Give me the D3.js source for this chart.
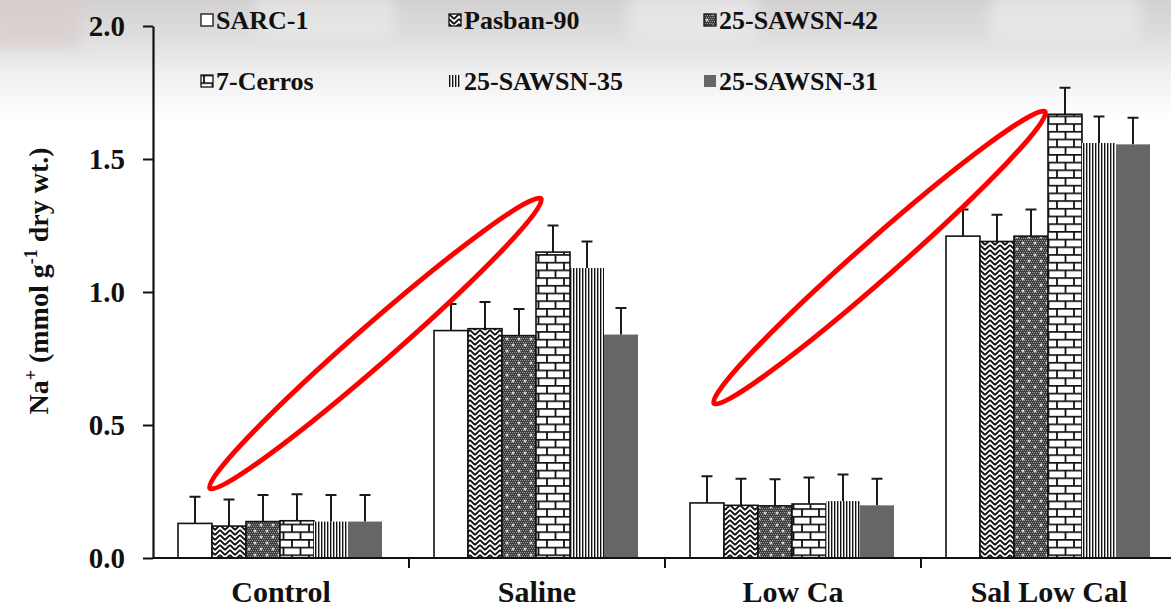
<!DOCTYPE html>
<html><head><meta charset="utf-8">
<script src="https://cdn.jsdelivr.net/npm/d3@7"></script>
<style>
html,body{margin:0;padding:0;background:#fff;}
svg{display:block;}
text{font-family:"Liberation Serif","Times New Roman",serif;font-weight:bold;fill:#111;}
</style></head>
<body>
<svg id="chart" width="1171" height="610"></svg>
<script>
// ---- data ----
const categories = ["Control", "Saline", "Low Ca", "Sal Low Cal"];
const seriesNames = ["SARC-1", "Pasban-90", "25-SAWSN-42", "7-Cerros", "25-SAWSN-35", "25-SAWSN-31"];
const sarc1     = [0.130, 0.855, 0.207, 1.210];
const pasban90  = [0.120, 0.862, 0.198, 1.190];
const sawsn42   = [0.137, 0.836, 0.196, 1.210];
const cerros7   = [0.140, 1.150, 0.203, 1.668];
const sawsn35   = [0.137, 1.090, 0.214, 1.560];
const sawsn31   = [0.137, 0.840, 0.198, 1.555];
const errSarc1    = [0.10, 0.10, 0.10, 0.10];
const errPasban90 = [0.10, 0.10, 0.10, 0.10];
const errSawsn42  = [0.10, 0.10, 0.10, 0.10];
const errCerros7  = [0.10, 0.10, 0.10, 0.10];
const errSawsn35  = [0.10, 0.10, 0.10, 0.10];
const errSawsn31  = [0.10, 0.10, 0.10, 0.10];
const yTicks = [0, 0.5, 1.0, 1.5, 2.0];
// annotation ellipses: endpoints as (category, fraction of band, value)
const annotations = [
  {c0: "Control", f0: 0.215, v0: 0.256, c1: "Saline", f1: 0.523, v1: 1.357},
  {c0: "Low Ca",  f0: 0.184, v0: 0.575, c1: "Sal Low Cal", f1: 0.492, v1: 1.684}
];

const values = [sarc1, pasban90, sawsn42, cerros7, sawsn35, sawsn31];
const errors = [errSarc1, errPasban90, errSawsn42, errCerros7, errSawsn35, errSawsn31];

const svg = d3.select("#chart");
const defs = svg.append("defs");

// ---- background (faded photo at top) ----
const bg = defs.append("linearGradient").attr("id","bgGrad").attr("x1",0).attr("y1",0).attr("x2",0).attr("y2",1);
[[0,"#d3d0d0"],[0.3,"#dedddd"],[0.6,"#eeeeee"],[0.85,"#f9f9f9"],[1,"#ffffff"]].forEach(s=>bg.append("stop").attr("offset",s[0]).attr("stop-color",s[1]));
const blur = defs.append("filter").attr("id","blur").attr("x","-50%").attr("y","-50%").attr("width","200%").attr("height","200%");
blur.append("feGaussianBlur").attr("stdDeviation",7);
svg.append("rect").attr("width",1171).attr("height",610).attr("fill","#fff");
svg.append("rect").attr("width",1171).attr("height",118).attr("fill","url(#bgGrad)");
const bgPatches = [[255,-5,140,42,0.45],[628,-5,130,44,0.5],[990,-5,150,44,0.5]];
svg.append("g").selectAll("rect").data(bgPatches).join("rect")
  .attr("x",d=>d[0]).attr("y",d=>d[1]).attr("width",d=>d[2]).attr("height",d=>d[3]).attr("rx",8)
  .attr("fill","#f4f4f4").attr("opacity",d=>d[4]).attr("filter","url(#blur)");
svg.append("rect").attr("x",-10).attr("y",-10).attr("width",90).attr("height",60)
  .attr("fill","#d9c9c9").attr("opacity",0.5).attr("filter","url(#blur)");

// ---- patterns ----
function pat(id,w,h){return defs.append("pattern").attr("id",id).attr("patternUnits","userSpaceOnUse").attr("width",w).attr("height",h);}
// herringbone
let p = pat("pHerr",10,10);
p.append("rect").attr("width",10).attr("height",10).attr("fill","#fff");
p.append("path").attr("d","M0,0L5,5M0,5L5,10M0,-5L5,0M5,5L10,0M5,10L10,5M5,0L10,-5M5,15L10,10M0,10L5,15")
  .attr("stroke","#111").attr("stroke-width",1.8).attr("fill","none");
// dense checker with white crosses
p = pat("pCheck",12,12);
p.append("rect").attr("width",12).attr("height",12).attr("fill","#3d3d3d");
for(let i=0;i<6;i++)for(let j=0;j<6;j++){
  p.append("rect").attr("x",2*i+(j%2)).attr("y",2*j).attr("width",1).attr("height",1).attr("fill","#9a9a9a");
}
p.append("path").attr("d","M3,1.5V4.5M1.5,3H4.5M9,7.5V10.5M7.5,9H10.5").attr("stroke","#fff").attr("stroke-width",1);
// brick
p = pat("pBrick",17,15.4);
p.append("rect").attr("width",17).attr("height",15.4).attr("fill","#fff");
p.append("path").attr("d","M0,0.9H17M0,8.6H17M3,0V7.7M11.5,7.7V15.4")
  .attr("stroke","#111").attr("stroke-width",1.8).attr("fill","none");
// vertical lines
p = pat("pVert",3,10);
p.append("rect").attr("width",3).attr("height",10).attr("fill","#fff");
p.append("rect").attr("x",0).attr("width",1.4).attr("height",10).attr("fill","#111");

const fills = ["#ffffff","url(#pHerr)","url(#pCheck)","url(#pBrick)","url(#pVert)","#666666"];
const strokes = ["#111","#111","#111","#111","none","none"];

// ---- scales ----
const x0 = d3.scaleBand().domain(categories).range([153,1177]).padding(0);
const x1 = d3.scaleBand().domain(seriesNames).range([25,229]).padding(0);
const y = d3.scaleLinear().domain([0,2]).range([558,26]);

// ---- bars ----
const data = [];
categories.forEach((c,ci)=>seriesNames.forEach((s,si)=>data.push({c,s,si,v:values[si][ci],e:errors[si][ci]})));
const gBars = svg.append("g");
gBars.selectAll("rect").data(data).join("rect")
  .attr("x",d=>x0(d.c)+x1(d.s)).attr("y",d=>y(d.v))
  .attr("width",x1.bandwidth()).attr("height",d=>y(0)-y(d.v))
  .attr("fill",d=>fills[d.si]).attr("stroke",d=>strokes[d.si]).attr("stroke-width",1.6);
// error bars
const gErr = svg.append("g").attr("stroke","#1a1a1a").attr("stroke-width",2);
gErr.selectAll("path").data(data).join("path")
  .attr("fill","none")
  .attr("d",d=>{const cx=x0(d.c)+x1(d.s)+x1.bandwidth()/2; const t=y(d.v+d.e), b=y(d.v);
    return `M${cx},${b}V${t}M${cx-5.5},${t}H${cx+5.5}`;});

// ---- axes ----
const yAxis = svg.append("g").attr("transform","translate(153,0)")
  .call(d3.axisLeft(y).tickValues(yTicks).tickFormat(d3.format(".1f")).tickSize(10).tickSizeOuter(0).tickPadding(18));
yAxis.select(".domain").attr("stroke","#111").attr("stroke-width",2.2);
yAxis.selectAll(".tick line").attr("stroke","#111").attr("stroke-width",2);
yAxis.selectAll(".tick text").style("font-size","29px").style("font-family","Liberation Serif").style("font-weight","bold").attr("fill","#111");

const xAxis = svg.append("g").attr("transform","translate(0,558)");
xAxis.append("line").attr("x1",153).attr("x2",1171).attr("stroke","#111").attr("stroke-width",2.2);
xAxis.selectAll("line.tk").data(categories.slice(1)).join("line").attr("class","tk")
  .attr("x1",d=>x0(d)).attr("x2",d=>x0(d)).attr("y1",0).attr("y2",10).attr("stroke","#111").attr("stroke-width",2);
xAxis.selectAll("text").data(categories).join("text")
  .attr("x",d=>x0(d)+x0.bandwidth()/2).attr("y",44).attr("text-anchor","middle")
  .style("font-size","30px").text(d=>d);

// y title
const yt = svg.append("text").attr("transform","translate(48,281) rotate(-90)").attr("text-anchor","middle").style("font-size","28px");
yt.append("tspan").text("Na");
yt.append("tspan").attr("dy",-11).style("font-size","18px").text("+");
yt.append("tspan").attr("dy",11).text(" (mmol g");
yt.append("tspan").attr("dy",-11).style("font-size","18px").text("-1");
yt.append("tspan").attr("dy",11).text(" dry wt.)");

// ---- legend ----
const legX = [201, 449, 704], legY = [29, 90];
const leg = svg.append("g").selectAll("g").data(seriesNames).join("g")
  .attr("transform",(d,i)=>`translate(${legX[i%3]},${legY[Math.floor(i/3)]})`);
leg.append("rect").attr("x",0).attr("y",-15).attr("width",12).attr("height",12)
  .attr("fill",(d,i)=>fills[i]).attr("stroke",(d,i)=>strokes[i]).attr("stroke-width",1.3);
leg.append("text").attr("x",15).attr("y",0).style("font-size","26px").text(d=>d);

// ---- annotation ellipses ----
svg.append("g").selectAll("ellipse").data(annotations).join("ellipse")
  .each(function(a){
    const xa = x0(a.c0)+a.f0*x0.bandwidth(), ya = y(a.v0);
    const xb = x0(a.c1)+a.f1*x0.bandwidth(), yb = y(a.v1);
    const cx=(xa+xb)/2, cy=(ya+yb)/2, L=Math.hypot(xb-xa,yb-ya), ang=Math.atan2(yb-ya,xb-xa)*180/Math.PI;
    d3.select(this).attr("cx",0).attr("cy",0).attr("rx",L/2-2.5).attr("ry",19)
      .attr("transform",`translate(${cx},${cy}) rotate(${ang})`);
  })
  .attr("fill","none").attr("stroke","#ff0000").attr("stroke-width",5);
</script>
</body></html>
